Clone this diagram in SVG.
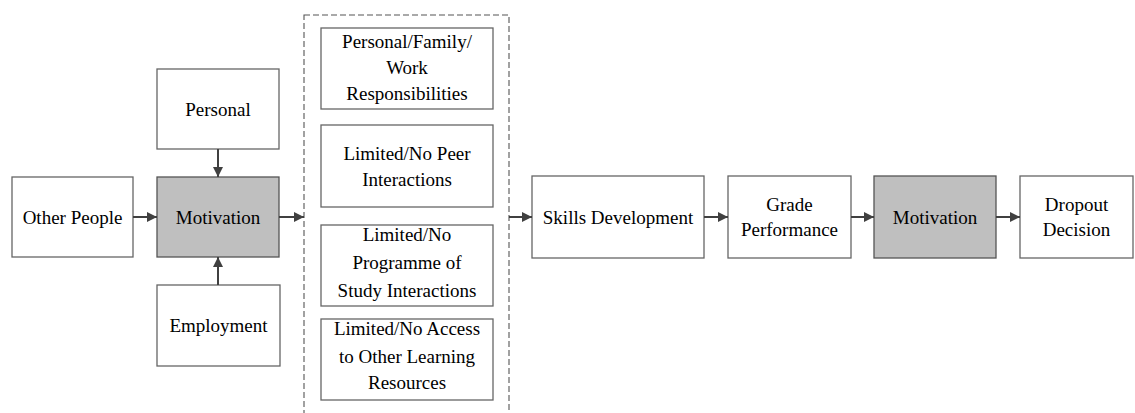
<svg xmlns="http://www.w3.org/2000/svg" width="1135" height="413" viewBox="0 0 1135 413">
<style>
.box{fill:#ffffff;stroke:#666666;stroke-width:1.3}
.hl{fill:#bfbfbf;stroke:#555555;stroke-width:1.3}
.t{font-family:'Liberation Serif','Times New Roman','DejaVu Serif',serif;font-size:19px;fill:#000000;text-anchor:middle}
.conn{stroke:#404040;stroke-width:2;fill:none;marker-end:url(#ah)}
.dash{fill:none;stroke:#555555;stroke-width:1.1;stroke-dasharray:6 3}
</style>
<defs>
<marker id="ah" viewBox="0 0 10 10" refX="10" refY="5" markerWidth="5" markerHeight="5" orient="auto" markerUnits="strokeWidth">
<path d="M0,0 L10,5 L0,10 z" fill="#404040"/>
</marker>
</defs>
<rect id="group-box" class="dash" x="304" y="15" width="205" height="405"/>
<g class="t" font-family="Liberation Serif, serif">
<g id="other-people"><rect class="box" x="12" y="177" width="121" height="80"/><text x="72.5" y="224">Other People</text></g>
<g id="personal"><rect class="box" x="157" y="69" width="122" height="80"/><text x="218" y="116">Personal</text></g>
<g id="motivation1"><rect class="hl" x="157" y="177" width="122" height="80"/><text x="218" y="224">Motivation</text></g>
<g id="employment"><rect class="box" x="157" y="285" width="123" height="81"/><text x="218.5" y="332">Employment</text></g>
<g id="responsibilities"><rect class="box" x="321" y="28" width="172" height="81"/><text x="407" y="48">Personal/Family/</text><text x="407" y="74">Work</text><text x="407" y="100">Responsibilities</text></g>
<g id="peer"><rect class="box" x="321" y="125" width="172" height="82"/><text x="407" y="160">Limited/No Peer</text><text x="407" y="186">Interactions</text></g>
<g id="programme"><rect class="box" x="321" y="225" width="172" height="81"/><text x="407" y="241">Limited/No</text><text x="407" y="269">Programme of</text><text x="407" y="297">Study Interactions</text></g>
<g id="resources"><rect class="box" x="321" y="319" width="172" height="81"/><text x="407" y="335">Limited/No Access</text><text x="407" y="363">to Other Learning</text><text x="407" y="389">Resources</text></g>
<g id="skills"><rect class="box" x="532" y="176" width="172" height="82"/><text x="618" y="224">Skills Development</text></g>
<g id="grade"><rect class="box" x="728" y="176" width="123" height="82"/><text x="789.5" y="211">Grade</text><text x="789.5" y="236">Performance</text></g>
<g id="motivation2"><rect class="hl" x="874" y="176" width="122" height="82"/><text x="935" y="224">Motivation</text></g>
<g id="dropout"><rect class="box" x="1020" y="176" width="113" height="82"/><text x="1076.5" y="211">Dropout</text><text x="1076.5" y="236">Decision</text></g>
</g>
<g id="connectors">
<line class="conn" x1="133" y1="217" x2="157" y2="217"/>
<line class="conn" x1="218" y1="149" x2="218" y2="177"/>
<line class="conn" x1="218" y1="285" x2="218" y2="257"/>
<line class="conn" x1="279" y1="217" x2="304" y2="217"/>
<line class="conn" x1="509" y1="217" x2="532" y2="217"/>
<line class="conn" x1="704" y1="217" x2="728" y2="217"/>
<line class="conn" x1="851" y1="217" x2="874" y2="217"/>
<line class="conn" x1="996" y1="217" x2="1020" y2="217"/>
</g>
</svg>
